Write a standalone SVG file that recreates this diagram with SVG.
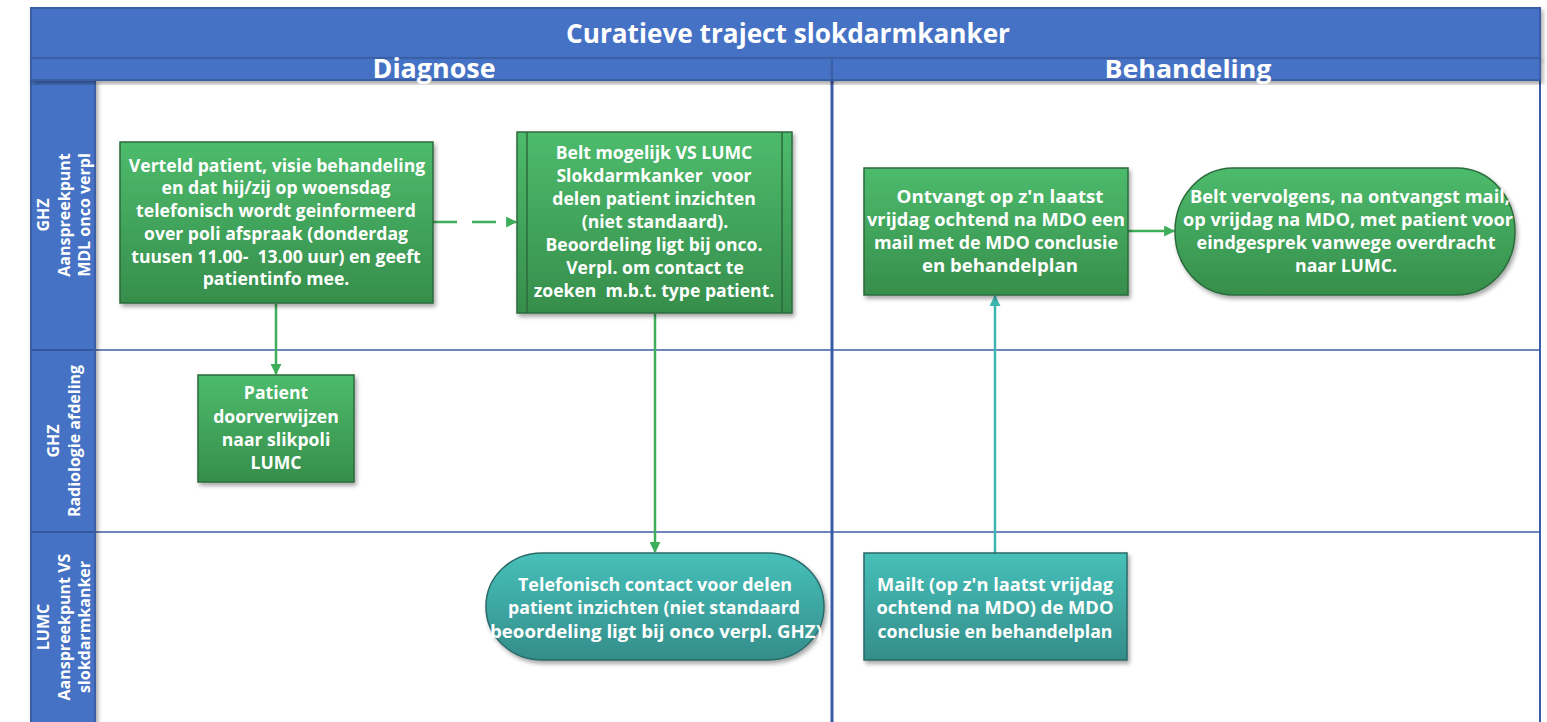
<svg xmlns="http://www.w3.org/2000/svg" width="1547" height="722" viewBox="0 0 1547 722">
<defs>
<linearGradient id="gg" x1="0" y1="0" x2="0" y2="1"><stop offset="0" stop-color="#4dbb6c"/><stop offset="1" stop-color="#368e4b"/></linearGradient>
<linearGradient id="tg" x1="0" y1="0" x2="0" y2="1"><stop offset="0" stop-color="#47c0ba"/><stop offset="1" stop-color="#348d89"/></linearGradient>
<filter id="sh" x="-10%" y="-10%" width="130%" height="130%"><feDropShadow dx="2" dy="3" stdDeviation="2" flood-color="#000" flood-opacity="0.35"/></filter>
<marker id="ag" viewBox="0 0 10 10" refX="9" refY="5" markerWidth="12" markerHeight="11" markerUnits="userSpaceOnUse" orient="auto"><path d="M0,0 L10,5 L0,10 z" fill="#3fae5a"/></marker>
<marker id="at" viewBox="0 0 10 10" refX="9" refY="5" markerWidth="12" markerHeight="11" markerUnits="userSpaceOnUse" orient="auto"><path d="M0,0 L10,5 L0,10 z" fill="#3db6b0"/></marker>
</defs>
<style>
.hdr{fill:#4472c4;stroke:#3a5fa6;stroke-width:2}
.t{font-family:"Open Sans","Noto Sans",sans-serif;font-weight:700;fill:#fff;text-anchor:middle;font-size:17.6px}
.c{font-size:18px}
.lane{font-family:"Open Sans","Noto Sans",sans-serif;font-weight:700;fill:#fff;text-anchor:middle;font-size:16px}
.gbox{fill:url(#gg);stroke:#2c6a3c;stroke-width:1.5;filter:url(#sh)}
.tbox{fill:url(#tg);stroke:#2a6a68;stroke-width:1.5;filter:url(#sh)}
.cg{stroke:#3fae5a;stroke-width:2.5;fill:none;marker-end:url(#ag)}
.ct{stroke:#3db6b0;stroke-width:2.5;fill:none;marker-end:url(#at)}
.ll{stroke:#3c5ea8;stroke-width:1.5}
</style>
<rect width="1547" height="722" fill="#fff"/>
<g id="frame">
<rect x="95" y="80" width="1445" height="650" fill="#fff"/>
<line class="ll" x1="95" y1="350" x2="1540" y2="350"/>
<line class="ll" x1="95" y1="532" x2="1540" y2="532"/>
<line x1="832" y1="80" x2="832" y2="722" stroke="#3a5ba8" stroke-width="3"/>
<line x1="1540" y1="58" x2="1540" y2="722" stroke="#3a5ba8" stroke-width="2"/>
<rect class="hdr" x="31" y="80" width="64" height="650" filter="url(#sh)"/>
<line x1="31" y1="350" x2="95" y2="350" stroke="#33579c" stroke-width="2"/>
<line x1="31" y1="532" x2="95" y2="532" stroke="#33579c" stroke-width="2"/>
<rect class="hdr" x="31" y="8" width="1509" height="50" filter="url(#sh)"/>
<rect class="hdr" x="31" y="58" width="801" height="22" filter="url(#sh)"/>
<rect class="hdr" x="832" y="58" width="708" height="22" filter="url(#sh)"/>
<text x="788" y="43" font-family="Open Sans, Noto Sans, sans-serif" font-weight="700" font-size="26" fill="#fff" text-anchor="middle" textLength="444" lengthAdjust="spacingAndGlyphs">Curatieve traject slokdarmkanker</text>
<text x="434" y="78" font-family="Open Sans, Noto Sans, sans-serif" font-weight="700" font-size="26" fill="#fff" text-anchor="middle" textLength="123" lengthAdjust="spacingAndGlyphs">Diagnose</text>
<text x="1188" y="78" font-family="Open Sans, Noto Sans, sans-serif" font-weight="700" font-size="25" fill="#fff" text-anchor="middle" textLength="167" lengthAdjust="spacingAndGlyphs">Behandeling</text>
</g>
<g id="lane1-label" transform="translate(0,215) rotate(-90)">
<text class="lane" x="0" y="49">GHZ</text>
<text class="lane" x="0" y="70">Aanspreekpunt</text>
<text class="lane" x="0" y="90">MDL onco verpl</text>
</g>
<g id="lane2-label" transform="translate(0,441) rotate(-90)">
<text class="lane" x="0" y="59">GHZ</text>
<text class="lane" x="0" y="80">Radiologie afdeling</text>
</g>
<g id="lane3-label" transform="translate(0,627) rotate(-90)">
<text class="lane" x="0" y="49">LUMC</text>
<text class="lane" x="0" y="70">Aanspreekpunt VS</text>
<text class="lane" x="0" y="90">slokdarmkanker</text>
</g>
<g id="connectors">
<line class="cg" x1="433" y1="222" x2="516" y2="222" stroke-dasharray="24 15"/>
<line class="cg" x1="276" y1="304" x2="276" y2="374"/>
<line class="cg" x1="655" y1="314" x2="655" y2="552"/>
<line class="ct" x1="995" y1="553" x2="995" y2="296"/>
<line class="cg" x1="1128" y1="231" x2="1174" y2="231"/>
</g>
<g id="n-verteld">
<rect class="gbox" x="120" y="142" width="313" height="161"/>
<text class="t" x="277" y="172">Verteld patient, visie behandeling</text>
<text class="t" x="276" y="194">en dat hij/zij op woensdag</text>
<text class="t" x="276" y="217">telefonisch wordt geinformeerd</text>
<text class="t" x="276" y="240">over poli afspraak (donderdag</text>
<text class="t" x="276" y="263" xml:space="preserve">tuusen 11.00-  13.00 uur) en geeft</text>
<text class="t" x="276" y="285">patientinfo mee.</text>
</g>
<g id="n-belt-mogelijk">
<rect class="gbox" x="517" y="132" width="275" height="181"/>
<line x1="527" y1="132" x2="527" y2="313" stroke="#2c6a3c" stroke-width="1.5"/>
<line x1="782" y1="132" x2="782" y2="313" stroke="#2c6a3c" stroke-width="1.5"/>
<text class="t" x="654" y="159">Belt mogelijk VS LUMC</text>
<text class="t" x="654" y="182" xml:space="preserve">Slokdarmkanker  voor</text>
<text class="t" x="654" y="205">delen patient inzichten</text>
<text class="t" x="655" y="228">(niet standaard).</text>
<text class="t" x="654" y="251">Beoordeling ligt bij onco.</text>
<text class="t" x="655" y="274">Verpl. om contact te</text>
<text class="t" x="654" y="297" xml:space="preserve">zoeken  m.b.t. type patient.</text>
</g>
<g id="n-patient">
<rect class="gbox" x="198" y="375" width="156" height="107"/>
<text class="t" x="276" y="399">Patient</text>
<text class="t" x="276" y="423">doorverwijzen</text>
<text class="t" x="276" y="446">naar slikpoli</text>
<text class="t" x="276" y="469">LUMC</text>
</g>
<g id="n-ontvangt">
<rect class="gbox" x="864" y="168" width="264" height="127"/>
<text class="t c" x="1000" y="203" textLength="207" lengthAdjust="spacingAndGlyphs">Ontvangt op z'n laatst</text>
<text class="t c" x="996" y="226" textLength="258" lengthAdjust="spacingAndGlyphs">vrijdag ochtend na MDO een</text>
<text class="t c" x="996" y="249" textLength="244" lengthAdjust="spacingAndGlyphs">mail met de MDO conclusie</text>
<text class="t c" x="1000" y="272" textLength="156" lengthAdjust="spacingAndGlyphs">en behandelplan</text>
</g>
<g id="n-belt-vervolgens">
<rect class="gbox" x="1175" y="168" width="340" height="127" rx="58" ry="63"/>
<text class="t c" x="1350" y="203" textLength="320" lengthAdjust="spacingAndGlyphs">Belt vervolgens, na ontvangst mail,</text>
<text class="t c" x="1348" y="226" textLength="330" lengthAdjust="spacingAndGlyphs">op vrijdag na MDO, met patient voor</text>
<text class="t c" x="1346" y="249" textLength="299" lengthAdjust="spacingAndGlyphs">eindgesprek vanwege overdracht</text>
<text class="t c" x="1346" y="272" textLength="102" lengthAdjust="spacingAndGlyphs">naar LUMC.</text>
</g>
<g id="n-telefonisch">
<rect class="tbox" x="486" y="553" width="338" height="107" rx="56" ry="53"/>
<text class="t c" x="655" y="591" textLength="274" lengthAdjust="spacingAndGlyphs">Telefonisch contact voor delen</text>
<text class="t c" x="654" y="614" textLength="292" lengthAdjust="spacingAndGlyphs">patient inzichten (niet standaard</text>
<text class="t c" x="656" y="638" textLength="332" lengthAdjust="spacingAndGlyphs">beoordeling ligt bij onco verpl. GHZ)</text>
</g>
<g id="n-mailt">
<rect class="tbox" x="864" y="553" width="263" height="107"/>
<text class="t c" x="995" y="591" textLength="236" lengthAdjust="spacingAndGlyphs">Mailt (op z'n laatst vrijdag</text>
<text class="t c" x="995" y="614" textLength="237" lengthAdjust="spacingAndGlyphs">ochtend na MDO) de MDO</text>
<text class="t c" x="995" y="638" textLength="235" lengthAdjust="spacingAndGlyphs">conclusie en behandelplan</text>
</g>
</svg>
